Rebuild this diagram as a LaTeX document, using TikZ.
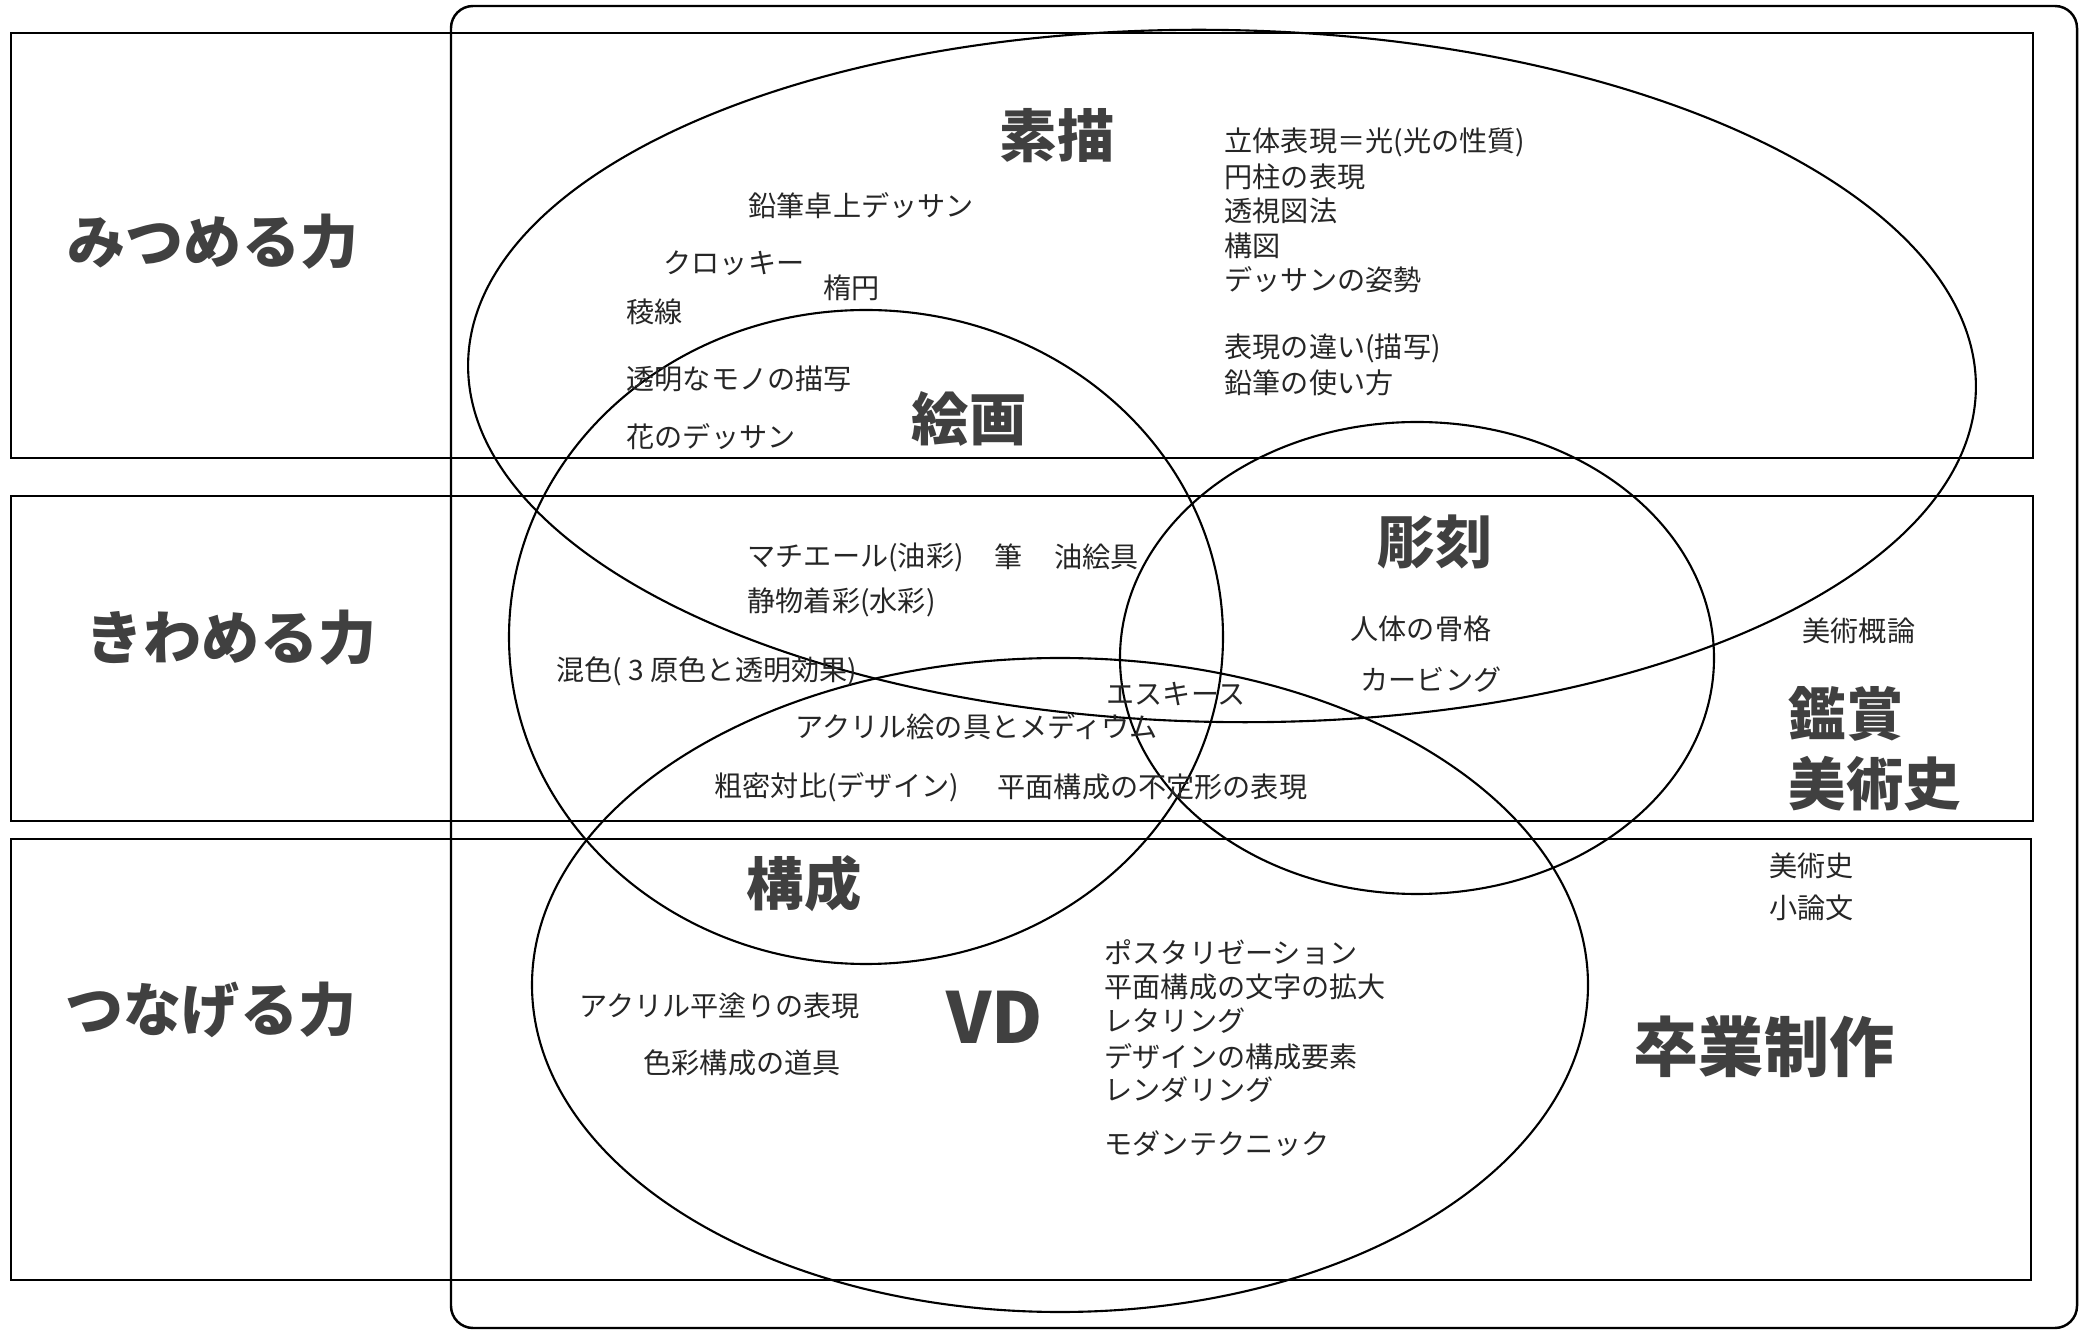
\documentclass[tikz,border=0pt]{standalone}
\usepackage{fontspec}
\setmainfont{Noto Sans CJK JP}
\newfontfamily\heavyjp{Noto Sans CJK JP Black}
\begin{document}
\begin{tikzpicture}[x=0.01cm, y=-0.01cm,
  item/.style={anchor=west, inner sep=0pt, font=\fontsize{8}{9}\selectfont, text=black!85},
  title/.style={inner sep=0pt, font=\fontsize{16.3}{18}\selectfont\heavyjp, text=black!75},
  power/.style={inner sep=0pt, font=\fontsize{16.5}{18}\selectfont\heavyjp, text=black!75},
  band/.style={draw, line width=0.7pt},
  area/.style={draw, line width=0.6pt}]
\useasboundingbox[fill=white] (0,0) rectangle (2084,1334);
% rows
\draw[band] (11,33) rectangle (2033,458);
\draw[band] (11,496) rectangle (2033,821);
\draw[band] (11,839) rectangle (2031,1280);
\draw[band, rounded corners=0.22cm] (451,6) rectangle (2077,1328);
% fields
\draw[area, rotate around={-1:(1222,376)}] (1222,376) ellipse [x radius=754, y radius=346];
\draw[area] (866,637) ellipse [x radius=357, y radius=327];
\draw[area] (1417,658) ellipse [x radius=297, y radius=236];
\draw[area] (1060,985) ellipse [x radius=528, y radius=327];
% row labels
\node[power] (mitsumeru) at (213,242) {みつめる力};
\node[power] (kiwameru) at (231,638) {きわめる力};
\node[power] (tsunageru) at (211,1010) {つなげる力};
% field titles
\node[title] (sobyo) at (1057,136) {素描};
\node[title] (kaiga) at (969,419) {絵画};
\node[title] (chokoku) at (1435,542) {彫刻};
\node[title] (kosei) at (804,884) {構成};
\node[title, font=\fontsize{20}{22}\selectfont\heavyjp] (vd) at (995,1017) {VD};
\node[title, anchor=west] (kansho) at (1788,714) {鑑賞};
\node[title, anchor=west] (bijutsushi) at (1788,784) {美術史};
\node[title, font=\fontsize{18.5}{20}\selectfont\heavyjp] (sotsugyo) at (1764,1047) {卒業制作};
% sobyo items
\node[item] (enpitsu) at (748,206) {鉛筆卓上デッサン};
\node[item] (croquis) at (663,263) {クロッキー};
\node[item] (daen) at (823,288) {楕円};
\node[item] (ryosen) at (626,312) {稜線};
\node[item] (tomei) at (626,379) {透明なモノの描写};
\node[item] (hana) at (626,437) {花のデッサン};
\node[item] (rittai) at (1224,142) {立体表現＝光(光の性質)};
\node[item] (enchu) at (1224,177) {円柱の表現};
\node[item] (toshi) at (1224,211) {透視図法};
\node[item] (kozu) at (1224,246) {構図};
\node[item] (shisei) at (1224,280) {デッサンの姿勢};
\node[item] (chigai) at (1224,348) {表現の違い(描写)};
\node[item] (tsukaikata) at (1224,383) {鉛筆の使い方};
% kaiga items
\node[item] (matiere) at (747,557) {マチエール(油彩)};
\node[item] (fude) at (994,557) {筆};
\node[item] (abura) at (1054,557) {油絵具};
\node[item] (seibutsu) at (747,602) {静物着彩(水彩)};
\node[item] (konshoku) at (556,671) {混色( 3 原色と透明効果)};
\node[item] (acrylic) at (795,727) {アクリル絵の具とメディウム};
\node[item] (somitsu) at (714,787) {粗密対比(デザイン)};
\node[item] (futei) at (997,787) {平面構成の不定形の表現};
% chokoku items
\node[item] (jintai) at (1350,629) {人体の骨格};
\node[item] (carving) at (1360,680) {カービング};
\node[item] (esquisse) at (1106,694) {エスキース};
% kansho items
\node[item] (gairon) at (1802,631) {美術概論};
\node[item] (shi) at (1769,866) {美術史};
\node[item] (ronbun) at (1769,908) {小論文};
% vd items
\node[item] (poster) at (1104,952) {ポスタリゼーション};
\node[item] (kakudai) at (1104,987) {平面構成の文字の拡大};
\node[item] (lettering) at (1104,1021) {レタリング};
\node[item] (yoso) at (1104,1057) {デザインの構成要素};
\node[item] (rendering) at (1104,1090) {レンダリング};
\node[item] (modern) at (1104,1144) {モダンテクニック};
\node[item] (hiranuri) at (579,1006) {アクリル平塗りの表現};
\node[item] (dogu) at (643,1063) {色彩構成の道具};
\end{tikzpicture}
\end{document}
